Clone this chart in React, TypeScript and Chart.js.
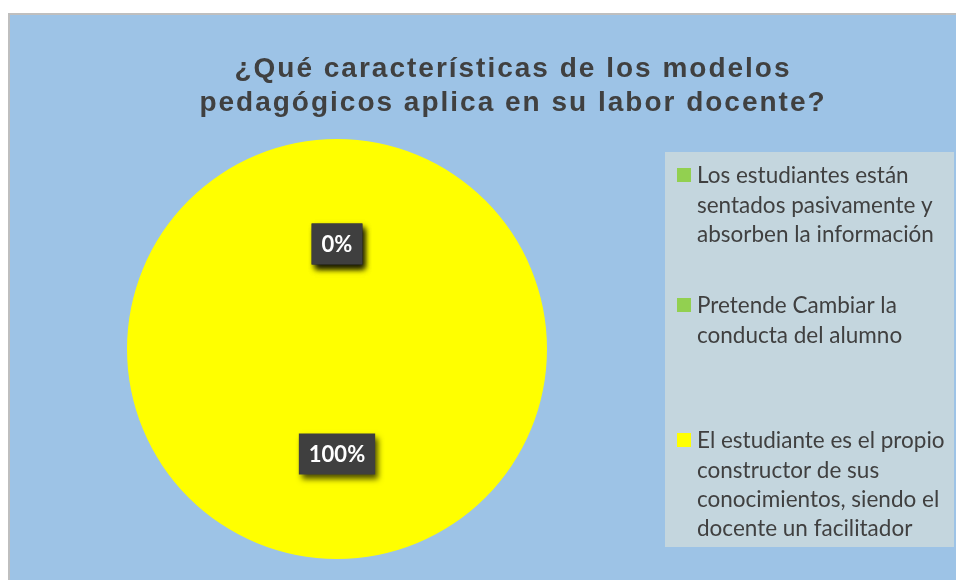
import React, { useEffect, useRef } from "react";
import { Chart, registerables } from "chart.js";

Chart.register(...registerables);

const TITLE_LINES = [
  "¿Qué características de los modelos",
  "pedagógicos aplica en su labor docente?",
];
const CATEGORIES: string[][] = [
  ["Los estudiantes están", "sentados pasivamente y", "absorben la información"],
  ["Pretende Cambiar la", "conducta del alumno"],
  ["El estudiante es el propio", "constructor de sus", "conocimientos, siendo el", "docente un facilitador"],
];
const VALUES = [0, 0, 100];
const COLORS = ["#92D050", "#92D050", "#FFFF00"];

const W = 948;
const H = 567;
const TEXT_COLOR = "#404040";

const backgroundPlugin = {
  id: "bgFrame",
  beforeDraw(chart: any) {
    const ctx = chart.ctx;
    ctx.save();
    ctx.fillStyle = "#9DC3E6";
    ctx.fillRect(0, 0, W, H);
    ctx.fillStyle = "#BFBFBF";
    ctx.fillRect(0, 0, W, 2);
    ctx.fillRect(0, 0, 2, H);
    ctx.restore();
  },
};

const titlePlugin = {
  id: "titleText",
  afterDraw(chart: any) {
    const ctx = chart.ctx;
    ctx.save();
    ctx.fillStyle = TEXT_COLOR;
    ctx.font = "bold 28px 'Liberation Sans', Arial, sans-serif";
    try {
      (ctx as any).letterSpacing = "2px";
    } catch (e) {}
    ctx.textAlign = "center";
    ctx.textBaseline = "middle";
    TITLE_LINES.forEach((line, i) => {
      ctx.fillText(line, 505, 56 + i * 34);
    });
    ctx.restore();
  },
};

const legendPlugin = {
  id: "sideLegend",
  afterDraw(chart: any) {
    const ctx = chart.ctx;
    const boxX = 657, boxY = 139, boxW = 289, boxH = 395;
    const itemTops = [162, 292, 427];
    const lineH = 29.3;
    ctx.save();
    ctx.fillStyle = "#C4D6DE";
    ctx.fillRect(boxX, boxY, boxW, boxH);
    const labels = chart.data.labels as string[][];
    const colors = chart.data.datasets[0].backgroundColor as string[];
    ctx.font = "22.5px Lato, sans-serif";
    ctx.textBaseline = "middle";
    ctx.textAlign = "left";
    labels.forEach((lines, i) => {
      const y0 = itemTops[i];
      ctx.fillStyle = colors[i];
      ctx.fillRect(669, y0 - 7, 14, 14);
      ctx.fillStyle = TEXT_COLOR;
      lines.forEach((ln, j) => ctx.fillText(ln, 689, y0 + j * lineH + 1));
    });
    ctx.restore();
  },
};

const dataLabelPlugin = {
  id: "pctLabels",
  afterDatasetsDraw(chart: any) {
    const ctx = chart.ctx;
    const meta = chart.getDatasetMeta(0);
    const data = chart.data.datasets[0].data as number[];
    const total = data.reduce((a, b) => a + b, 0);
    ctx.save();
    ctx.font = "bold 22px Lato, sans-serif";
    ctx.textAlign = "center";
    ctx.textBaseline = "middle";
    meta.data.forEach((arc: any, i: number) => {
      const txt = Math.round((data[i] / total) * 100) + "%";
      const p = arc.tooltipPosition();
      const tw = ctx.measureText(txt).width;
      const bw = tw + 20;
      const bh = 41;
      ctx.save();
      ctx.shadowColor = "rgba(0,0,0,0.7)";
      ctx.shadowBlur = 6;
      ctx.shadowOffsetX = 3;
      ctx.shadowOffsetY = 4;
      ctx.fillStyle = "#3F3F3F";
      ctx.fillRect(p.x - bw / 2, p.y - bh / 2, bw, bh);
      ctx.restore();
      ctx.fillStyle = "#FFFFFF";
      ctx.fillText(txt, p.x, p.y + 1);
    });
    ctx.restore();
  },
};

export default function App() {
  const ref = useRef<HTMLCanvasElement | null>(null);
  useEffect(() => {
    document.documentElement.style.overflow = "hidden";
    if (!ref.current) return;
    const chart = new Chart(ref.current, {
      type: "pie",
      data: {
        labels: CATEGORIES as any,
        datasets: [
          {
            data: VALUES,
            backgroundColor: COLORS,
            borderWidth: 0,
          },
        ],
      },
      options: {
        responsive: false,
        animation: false,
        layout: { padding: { left: 119, top: 126, right: 409, bottom: 21 } },
        plugins: {
          legend: { display: false },
          title: { display: false },
          tooltip: { enabled: false },
        },
      },
      plugins: [backgroundPlugin, titlePlugin, legendPlugin, dataLabelPlugin],
    });
    return () => chart.destroy();
  }, []);
  return (
    <div style={{ position: "absolute", left: 8, top: 13, width: W, height: H }}>
      <canvas ref={ref} width={W} height={H} style={{ display: "block", width: W, height: H }} />
    </div>
  );
}
